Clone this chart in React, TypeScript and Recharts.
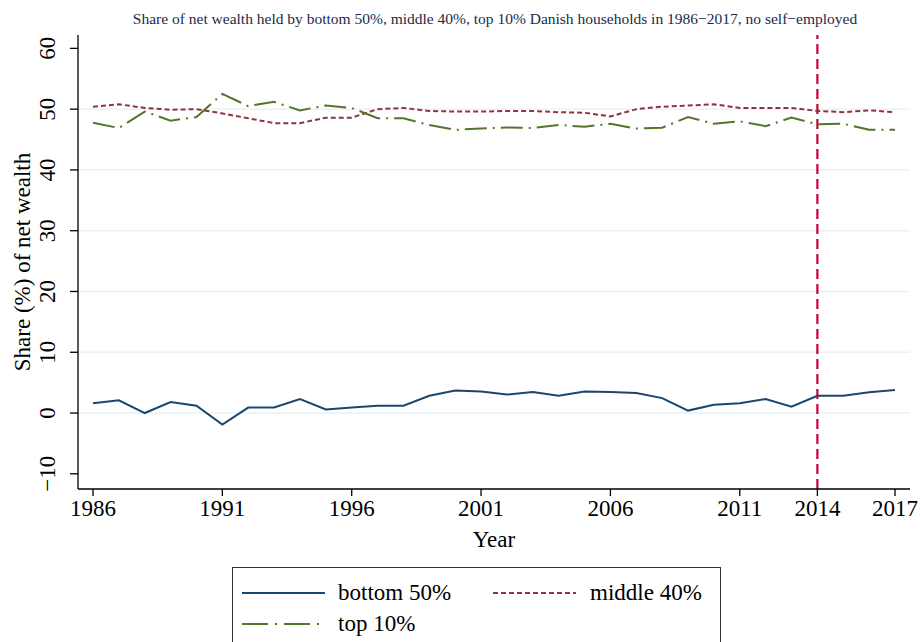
import { LineChart, Line, XAxis, YAxis, CartesianGrid, ReferenceLine, Label } from "recharts";

const years = [
  1986, 1987, 1988, 1989, 1990, 1991, 1992, 1993, 1994, 1995, 1996,
  1997, 1998, 1999, 2000, 2001, 2002, 2003, 2004, 2005, 2006, 2007,
  2008, 2009, 2010, 2011, 2012, 2013, 2014, 2015, 2016, 2017,
];

const bottom50 = [
  1.6, 2.1, 0.0, 1.8, 1.2, -1.9, 0.9, 0.9, 2.3, 0.6, 0.9,
  1.2, 1.2, 2.85, 3.7, 3.55, 3.05, 3.45, 2.85, 3.55, 3.45, 3.3,
  2.45, 0.4, 1.35, 1.6, 2.3, 1.05, 2.85, 2.85, 3.4, 3.8,
];

const middle40 = [
  50.4, 50.8, 50.2, 49.9, 50.0, 49.3, 48.5, 47.7, 47.7, 48.6, 48.6,
  50.0, 50.2, 49.7, 49.6, 49.6, 49.7, 49.7, 49.5, 49.4, 48.8, 50.0,
  50.4, 50.6, 50.8, 50.2, 50.2, 50.2, 49.7, 49.5, 49.8, 49.5,
];

const top10 = [
  47.75, 46.9, 49.6, 48.1, 48.7, 52.5, 50.5, 51.2, 49.8, 50.6, 50.2,
  48.5, 48.5, 47.4, 46.6, 46.8, 47.0, 46.9, 47.4, 47.1, 47.6, 46.8,
  46.95, 48.7, 47.6, 48.0, 47.2, 48.6, 47.5, 47.6, 46.6, 46.6,
];

const xTicks = [1986, 1991, 1996, 2001, 2006, 2011, 2014, 2017];
const yTicks = [-10, 0, 10, 20, 30, 40, 50, 60];
const gridValues = [0, 10, 20, 30, 40, 50];
const cutYear = 2014;

const data = years.map((year, i) => ({
  year,
  bottom: bottom50[i],
  middle: middle40[i],
  top: top10[i],
}));

const FONT = "'Liberation Serif', serif";
const NAVY = "#1a476f";
const MAROON = "#90353b";
const GREEN = "#55752f";

const fmt = (v: number) => (v < 0 ? "\u2212" + Math.abs(v) : String(v));

const YTick = ({ y, payload }: any) => (
  <text
    transform={`translate(55, ${y}) rotate(-90)`}
    textAnchor="middle"
    fontFamily={FONT}
    fontSize={23}
    fill="#000"
  >
    {fmt(payload.value)}
  </text>
);

export default function App() {
  return (
    <div style={{ position: "absolute", left: 0, top: 0, width: 920, height: 642, background: "#fff", overflow: "hidden" }}>
      <div
        style={{
          position: "absolute",
          top: 10,
          left: 0,
          width: 990,
          textAlign: "center",
          fontFamily: FONT,
          fontSize: 15.5,
          color: "#1a2b4c",
        }}
      >
        Share of net wealth held by bottom 50%, middle 40%, top 10% Danish households in 1986−2017, no self−employed
      </div>

      <LineChart
        width={920}
        height={642}
        data={data}
        margin={{ top: 35, right: 10, bottom: 0, left: 18 }}
      >
        <CartesianGrid
          horizontal
          vertical={false}
          horizontalValues={gridValues}
          stroke="#eaf2f3"
          strokeWidth={1.5}
        />
        <XAxis
          dataKey="year"
          type="number"
          domain={[1985.42, 2017.58]}
          ticks={xTicks}
          interval={0}
          height={153}
          tickSize={7}
          tickMargin={4}
          stroke="#000"
          strokeWidth={1.3}
          tick={{ fontFamily: FONT, fontSize: 23, fill: "#000" }}
        >
          <Label
            value="Year"
            position="insideTop"
            offset={42}
            style={{ fontFamily: FONT, fontSize: 23, fill: "#000" }}
          />
        </XAxis>
        <YAxis
          type="number"
          domain={[-12.5, 62.2]}
          ticks={yTicks}
          interval={0}
          width={60}
          tickSize={8}
          stroke="#000"
          strokeWidth={1.3}
          tick={<YTick />}
        >
          <Label
            value="Share (%) of net wealth"
            angle={-90}
            position="insideLeft"
            offset={4}
            style={{ fontFamily: FONT, fontSize: 23, fill: "#000", textAnchor: "middle" }}
          />
        </YAxis>
        <ReferenceLine
          x={cutYear}
          stroke="#c10534"
          strokeWidth={2.2}
          strokeDasharray="10 5"
        />
        <Line
          dataKey="bottom"
          stroke={NAVY}
          strokeWidth={2}
          dot={false}
          isAnimationActive={false}
          type="linear"
        />
        <Line
          dataKey="middle"
          stroke={MAROON}
          strokeWidth={2}
          strokeDasharray="5 3"
          dot={false}
          isAnimationActive={false}
          type="linear"
        />
        <Line
          dataKey="top"
          stroke={GREEN}
          strokeWidth={2}
          strokeDasharray="22 6 2 6"
          dot={false}
          isAnimationActive={false}
          type="linear"
        />
      </LineChart>

      <div
        style={{
          position: "absolute",
          left: 232,
          top: 567,
          width: 489,
          height: 90,
          border: "1px solid #333",
          boxSizing: "border-box",
        }}
      >
        <svg width={489} height={90} style={{ position: "absolute", left: 0, top: 0 }}>
          <line x1={9} x2={92} y1={25} y2={25} stroke={NAVY} strokeWidth={2} />
          <text x={105} y={32} fontFamily={FONT} fontSize={23} fill="#000">bottom 50%</text>
          <line x1={260} x2={343} y1={25} y2={25} stroke={MAROON} strokeWidth={2} strokeDasharray="5 3" />
          <text x={357} y={32} fontFamily={FONT} fontSize={23} fill="#000">middle 40%</text>
          <line x1={9} x2={92} y1={56} y2={56} stroke={GREEN} strokeWidth={2} strokeDasharray="26 7 2 7" />
          <text x={105} y={63} fontFamily={FONT} fontSize={23} fill="#000">top 10%</text>
        </svg>
      </div>
    </div>
  );
}
